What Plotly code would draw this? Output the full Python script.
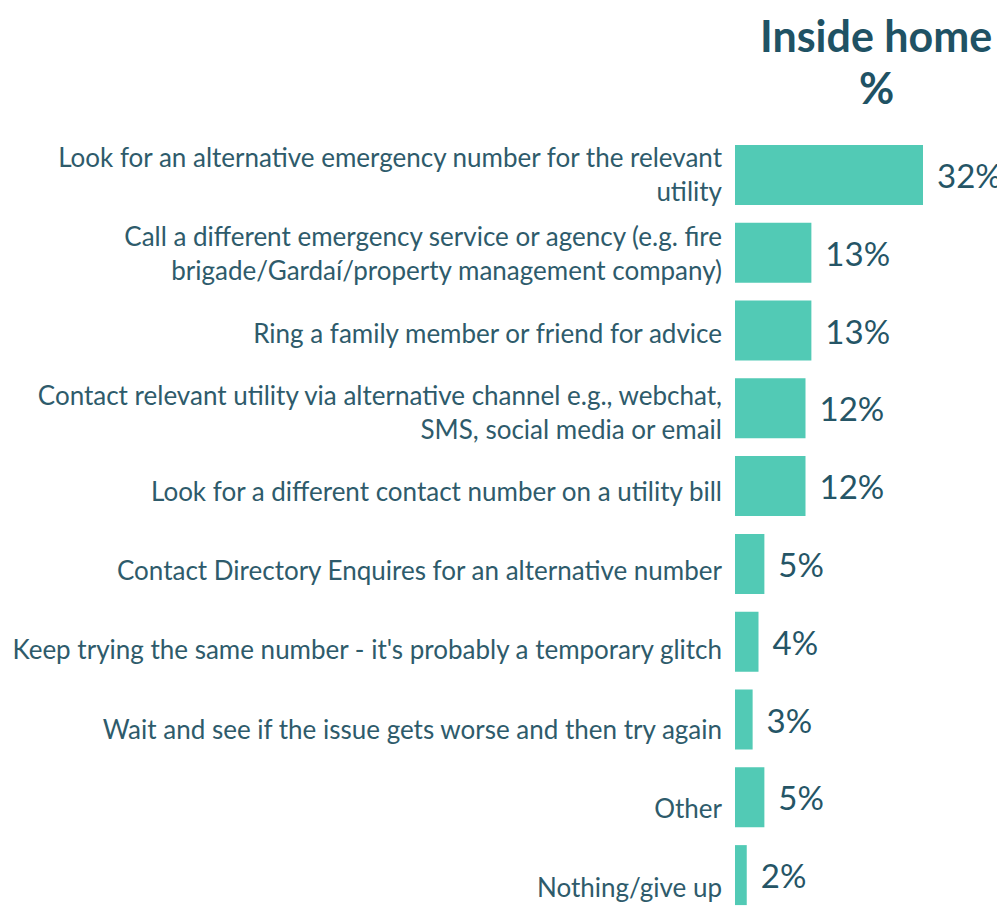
import plotly.graph_objects as go

categories = [
    "Look for an alternative emergency number for the relevant<br>utility",
    "Call a different emergency service or agency (e.g. fire<br>brigade/Gardaí/property management company)",
    "Ring a family member or friend for advice",
    "Contact relevant utility via alternative channel e.g., webchat,<br>SMS, social media or email",
    "Look for a different contact number on a utility bill",
    "Contact Directory Enquires for an alternative number",
    "Keep trying the same number - it's probably a temporary glitch",
    "Wait and see if the issue gets worse and then try again",
    "Other",
    "Nothing/give up",
]
values = [32, 13, 13, 12, 12, 5, 4, 3, 5, 2]
title_lines = ["Inside home", "%"]

BAR = "#52CAB5"
LABEL = "#2E5B6B"
VALUE = "#255566"
TITLE = "#1F5264"
FONT = "Lato"

# the page body adds an 8px offset, so the figure is 8px smaller
W, H = 997, 898
L, T = 727, 128
PLOT_W, PLOT_H = W - L, H - T

fig = go.Figure()
fig.add_trace(go.Bar(
    x=values, y=categories, orientation="h",
    marker=dict(color=BAR, line=dict(width=0)),
    text=values, texttemplate="\u2004%{x}%", textposition="outside",
    textfont=dict(family=FONT, size=33, color=VALUE),
    constraintext="none", cliponaxis=False, hoverinfo="skip",
))
# invisible trace carrying the category labels on a slightly different scale
fig.add_trace(go.Scatter(
    x=[0] * len(categories), y=categories, yaxis="y2", mode="markers",
    marker=dict(opacity=0), hoverinfo="skip", showlegend=False,
))

fig.update_layout(
    width=W, height=H,
    margin=dict(l=L, r=0, t=T, b=0),
    paper_bgcolor="white", plot_bgcolor="white",
    showlegend=False, bargap=0.229,
    font=dict(family=FONT, color=LABEL),
    xaxis=dict(range=[0, PLOT_W / 5.875], visible=False, fixedrange=True),
    yaxis=dict(type="category", categoryarray=categories,
               range=[-0.5 + PLOT_H / 77.8, -0.5], showticklabels=False,
               showgrid=False, zeroline=False, showline=False),
    yaxis2=dict(type="category", categoryarray=categories, overlaying="y",
                side="left", range=[-0.4924 + PLOT_H / 79.2, -0.4924],
                showgrid=False, zeroline=False, showline=False,
                ticks="", ticklabelstandoff=12,
                tickfont=dict(family=FONT, size=26, color=LABEL)),
)

for line, yy in zip(title_lines, [1 + 100 / PLOT_H, 1 + 48 / PLOT_H]):
    fig.add_annotation(text=f"<b>{line}</b>", xref="paper", yref="paper",
                       x=(876 - 735) / PLOT_W, y=yy, xanchor="center", yanchor="middle",
                       showarrow=False, font=dict(family=FONT, size=43, color=TITLE))

fig.write_html("out.html")
